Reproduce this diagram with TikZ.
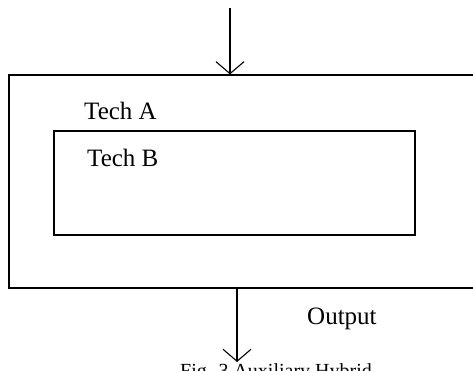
\documentclass[tikz,border=0pt]{standalone}
\usepackage{fontspec}
\setmainfont{Liberation Serif}
\usetikzlibrary{arrows.meta}
\begin{document}
\begin{tikzpicture}[
                x=1pt, y=-1pt,
                box/.style={draw, line width=1.2pt, inner sep=0pt},
                label text/.style={anchor=west, inner sep=0pt, font=\fontsize{25}{25}\selectfont},
                arr/.style={line width=1.1pt, -{Straight Barb[length=12pt, width=28pt, line width=1.1pt]}},
            ]
            \useasboundingbox (0,0) rectangle (473,371);
            \clip (0,0) rectangle (473,371);
            % boxes
            \node[box, minimum width=471pt, minimum height=213pt] (techA) at (244.5,181.5) {};
            \node[box, minimum width=361pt, minimum height=104pt] (techB) at (234.5,183) {};
            \node[label text] (labelA) at (84,111) {Tech A};
            \node[label text] (labelB) at (87,157.5) {Tech B};
            \node[label text] (output) at (307,319) {Output};
            \node[anchor=base west, inner sep=0pt, font=\fontsize{20}{20}\selectfont] (caption) at (180,377) {Fig. 3 Auxiliary Hybrid};
            % arrows
            \coordinate (in) at (230,8);
            \coordinate (out) at (237,362);
            \draw[arr] (in) -- (in |- techA.north);
            \draw[arr] (techA.south -| out) -- (out);
            \end{tikzpicture}
\end{document}
